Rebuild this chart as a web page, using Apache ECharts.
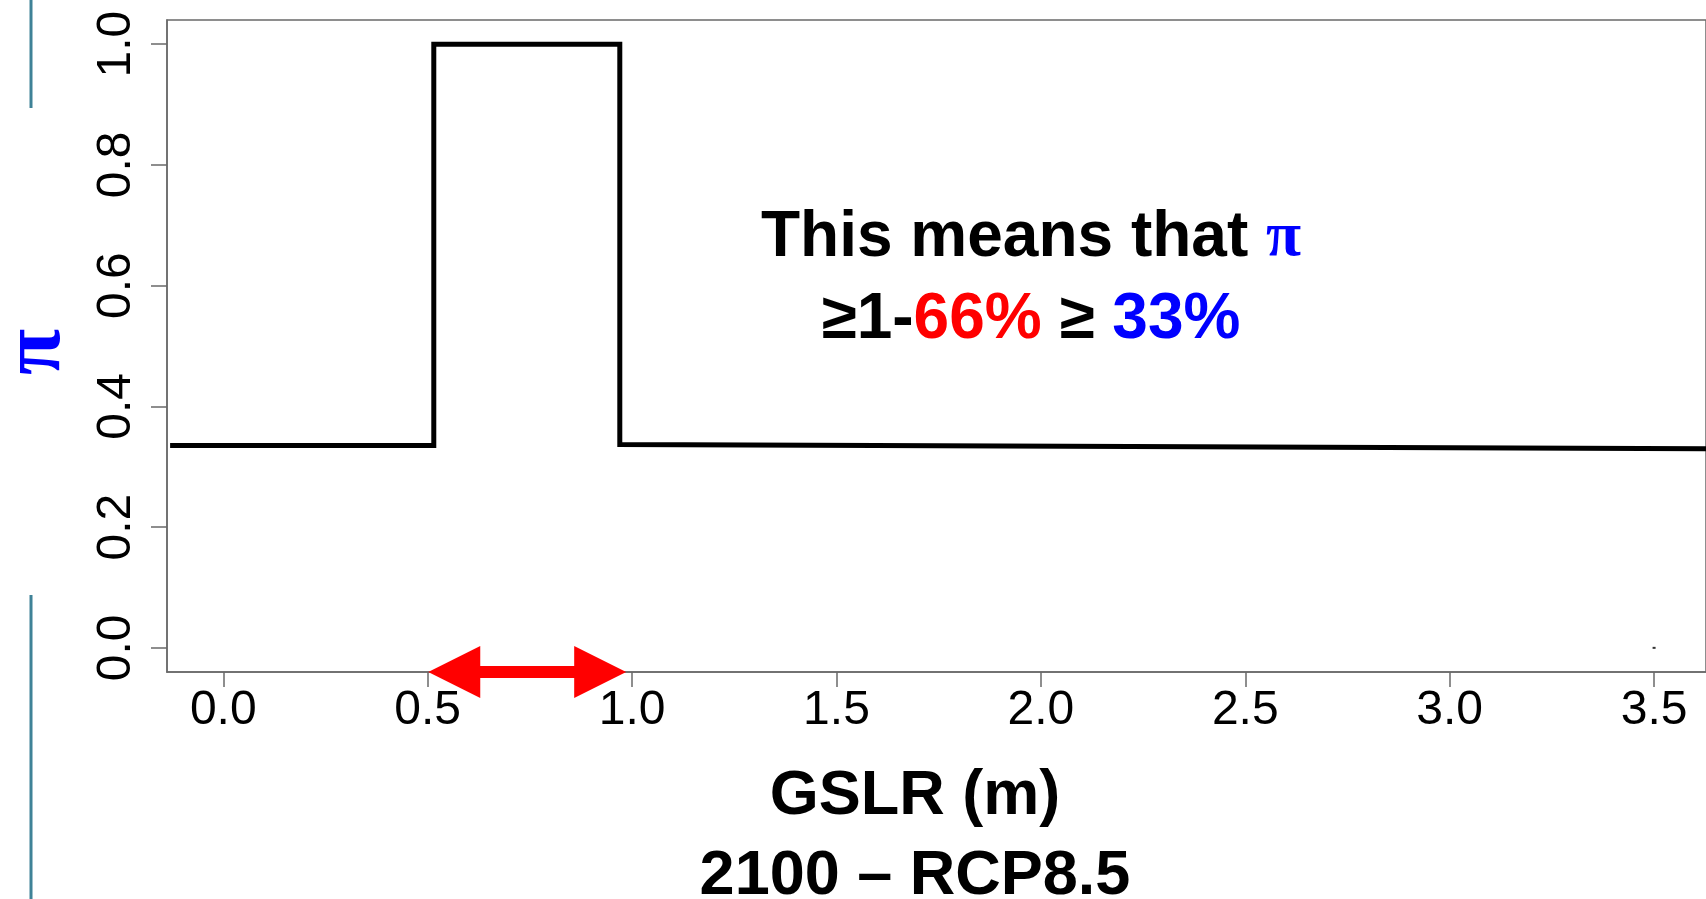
<!DOCTYPE html>
<html><head><meta charset="utf-8">
<script src="https://cdn.jsdelivr.net/npm/echarts@6/dist/echarts.min.js"></script>
<style>html,body{margin:0;padding:0;background:#fff}#c{width:1706px;height:899px}</style>
</head><body><div id="c"></div>
<script>
// ---- data ----
const xTicks = [0, 0.5, 1.0, 1.5, 2.0, 2.5, 3.0, 3.5];
const yTicks = [0, 0.2, 0.4, 0.6, 0.8, 1.0];
const xRange = [-0.1376, 3.627];
const yRange = [-0.04, 1.04];
const stepX = [-0.13, 0.515, 0.515, 0.97, 0.97, 3.627];
const stepY = [0.335, 0.335, 1.0, 1.0, 0.337, 0.330];
const dotX = [3.5];
const dotY = [0.0];
// double arrow under the axis (centres of the two arrow heads)
const arrowFrom = [0.565, -0.0398];
const arrowTo = [0.922, -0.0398];
const xTitle = ['GSLR (m)', '2100 – RCP8.5'];
const yTitle = 'π';

const chart = echarts.init(document.getElementById('c'), null, {renderer: 'canvas'});
const sans = 'Liberation Sans, Arial, sans-serif';
const serif = 'Liberation Serif, Times New Roman, serif';

const option = {
  animation: false,
  backgroundColor: '#fff',
  grid: {left: 167, right: -5, top: 20, bottom: 227, show: true, borderColor: '#6a6a6a', borderWidth: 1.5},
  xAxis: {
    type: 'value', min: xRange[0], max: xRange[1],
    splitLine: {show: false},
    axisLine: {show: true, onZero: false, lineStyle: {color: '#6a6a6a', width: 1.5}},
    axisTick: {show: true, length: 15, customValues: xTicks, lineStyle: {color: '#6a6a6a', width: 1.5}},
    axisLabel: {customValues: xTicks, formatter: v => v.toFixed(1), fontSize: 48, fontFamily: sans, color: '#000', margin: 15}
  },
  yAxis: {
    type: 'value', min: yRange[0], max: yRange[1],
    splitLine: {show: false},
    axisLine: {show: true, onZero: false, lineStyle: {color: '#6a6a6a', width: 1.5}},
    axisTick: {show: true, length: 16, customValues: yTicks, lineStyle: {color: '#6a6a6a', width: 1.5}},
    axisLabel: {customValues: yTicks, formatter: v => v.toFixed(1), fontSize: 48, fontFamily: sans, color: '#000', margin: 26, rotate: 90}
  },
  series: [
    {
      type: 'line',
      data: stepX.map((x, i) => [x, stepY[i]]),
      showSymbol: false,
      lineStyle: {color: '#000', width: 5, join: 'miter', cap: 'butt'},
      z: 3
    },
    {
      type: 'scatter',
      data: dotX.map((x, i) => [x, dotY[i]]),
      symbol: 'rect', symbolSize: [3, 2],
      itemStyle: {color: '#000'},
      clip: false,
      markLine: {
        silent: true,
        symbol: ['triangle', 'triangle'],
        symbolSize: [52, 52],
        label: {show: false},
        lineStyle: {color: '#ff0000', width: 12, type: 'solid', opacity: 1},
        emphasis: {disabled: true},
        data: [[{coord: arrowFrom}, {coord: arrowTo}]]
      },
      z: 4
    }
  ],
  graphic: [
    {type: 'line', shape: {x1: 31, y1: 0, x2: 31, y2: 108}, style: {stroke: '#3f8297', lineWidth: 3}},
    {type: 'line', shape: {x1: 31, y1: 595, x2: 31, y2: 899}, style: {stroke: '#3f8297', lineWidth: 3}},
    {type: 'text', x: 37, y: 352, rotation: Math.PI / 2,
      style: {text: yTitle, fill: '#0000ff', font: 'bold 84px ' + serif, align: 'center', verticalAlign: 'middle'}},
    {type: 'text', x: 915, y: 837,
      style: {text: xTitle.join('\n'), fill: '#000', font: 'bold 63px ' + sans, lineHeight: 80, align: 'center', verticalAlign: 'middle'}},
    {type: 'text', x: 1031, y: 279,
      style: {
        text: '{b|This means that }{p|π}\n{b|≥1-}{r|66%}{b| ≥ }{bl|33%}',
        align: 'center', verticalAlign: 'middle',
        rich: {
          b: {font: 'bold 64px ' + sans, fill: '#000', lineHeight: 82},
          p: {font: 'bold 64px ' + serif, fill: '#0000ff', lineHeight: 82},
          r: {font: 'bold 64px ' + sans, fill: '#ff0000', lineHeight: 82},
          bl: {font: 'bold 64px ' + sans, fill: '#0000ff', lineHeight: 82}
        }
      }}
  ]
};
chart.setOption(option);
</script>
</body></html>
